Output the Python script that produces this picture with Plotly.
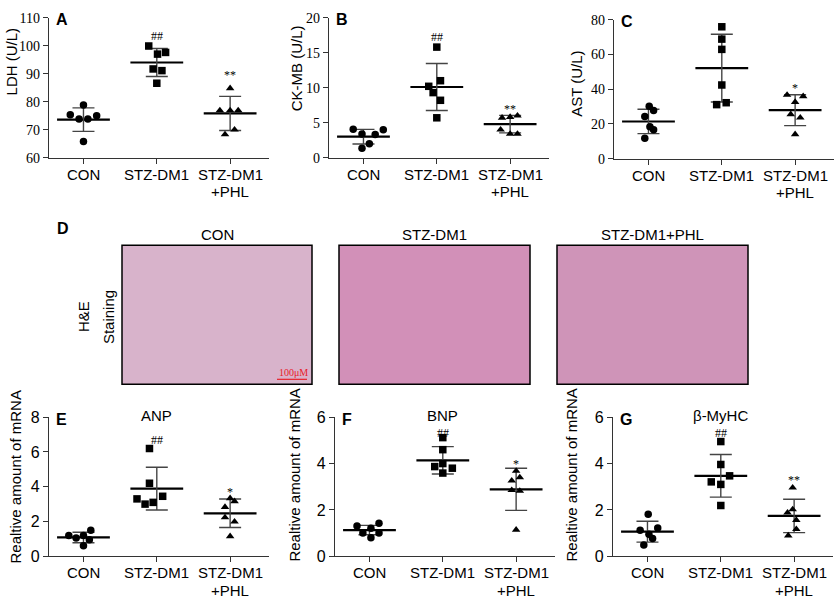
import plotly.graph_objects as go

W, H = 836, 608

groups = ["CON", "STZ-DM1", "STZ-DM1"]

# A - LDH (U/L)
ldh_con = [78.8, 75.3, 73.8, 73.8, 75.0, 65.8]
ldh_stz = [99.9, 97.0, 97.6, 91.7, 91.1, 86.6]
ldh_phl = [84.8, 76.9, 76.9, 76.9, 70.0, 68.3]
ldh_mean = [73.6, 94.0, 75.8]
ldh_sd = [4.2, 5.0, 6.1]
ldh_sig = [None, 103.3, 89.7]

# B - CK-MB (U/L)
ck_con = [4.07, 4.0, 3.4, 3.3, 2.0, 1.35]
ck_stz = [15.8, 11.0, 10.2, 9.3, 8.2, 5.7]
ck_phl = [5.7, 5.8, 6.0, 4.0, 3.4, 3.4]
ck_mean = [3.0, 10.1, 4.8]
ck_sd = [1.05, 3.35, 1.25]
ck_sig = [None, 17.3, 7.0]

# C - AST (U/L)
ast_con = [30.1, 27.7, 24.2, 18.4, 16.6, 11.7]
ast_stz = [75.9, 68.8, 62.9, 42.4, 31.1, 32.2]
ast_phl = [36.7, 35.9, 32.6, 25.5, 23.6, 14.0]
ast_mean = [21.4, 52.1, 27.9]
ast_sd = [7.0, 19.5, 8.9]
ast_sig = [None, 80.9, 40.4]

# E - ANP mRNA
anp_con = [1.2, 1.5, 1.05, 1.2, 0.95, 0.6]
anp_stz = [6.2, 4.2, 3.45, 3.3, 3.1, 3.0]
anp_phl = [3.33, 3.16, 2.83, 2.23, 1.99, 1.15]
anp_mean = [1.08, 3.89, 2.47]
anp_sd = [0.3, 1.23, 0.82]
anp_sig = [None, 6.7, 3.67]

# F - BNP mRNA
bnp_con = [1.31, 1.42, 1.0, 1.21, 1.0, 0.8]
bnp_stz = [5.12, 4.6, 3.87, 4.0, 3.8, 3.59]
bnp_phl = [3.68, 3.4, 3.26, 2.85, 2.82, 1.14]
bnp_mean = [1.13, 4.14, 2.89]
bnp_sd = [0.2, 0.59, 0.91]
bnp_sig = [None, 5.32, 4.0]

# G - beta-MyHC mRNA
myh_con = [1.81, 1.12, 1.22, 0.95, 0.77, 0.49]
myh_stz = [4.95, 3.96, 3.47, 3.21, 3.1, 2.19]
myh_phl = [2.96, 2.02, 1.88, 1.56, 1.17, 0.89]
myh_mean = [1.06, 3.47, 1.74]
myh_sd = [0.45, 0.92, 0.72]
myh_sig = [None, 5.32, 3.27]

# horizontal scatter of the dots within a group
ldh_off = [[0, -0.18, -0.06, 0.06, 0.18, 0], [-0.11, 0.01, 0.12, -0.05, 0.07, 0], [0, -0.14, 0, 0.11, 0.06, -0.07]]
ck_off = [[-0.14, 0.27, -0.02, 0.16, 0.08, -0.02], [0, 0.05, -0.11, -0.05, 0.05, 0], [-0.11, 0, 0.1, -0.13, 0, 0.1]]
ast_off = [[0.01, 0.07, -0.05, 0.02, 0.07, -0.05], [0, 0, 0, 0, -0.07, 0.06], [-0.11, 0.11, 0, -0.06, 0.07, 0]]
anp_off = [[-0.2, 0.1, -0.1, 0, 0.08, 0], [-0.1, -0.1, 0.08, -0.27, -0.05, -0.16], [0, 0.06, -0.07, -0.07, 0.06, 0]]
bnp_off = [[-0.17, 0.13, -0.09, 0.02, 0.13, 0.02], [0, 0, -0.11, 0, 0.13, 0], [0, 0.05, -0.06, -0.06, 0.05, 0]]
myh_off = [[0.01, -0.1, 0.14, 0.02, 0.07, -0.05], [0, 0, 0.12, -0.13, 0, 0], [-0.02, -0.02, -0.09, 0.03, 0.03, -0.08]]

panels = [
    dict(letter="A", data=[ldh_con, ldh_stz, ldh_phl], mean=ldh_mean, sd=ldh_sd, off=ldh_off,
         sig=ldh_sig, stars=[None, "##", "**"], yr=[60, 110], dt=10, x0=49, y0=10, y1=154,
         title="LDH (U/L)", tx=11, ty=55, sub=None, top=True),
    dict(letter="B", data=[ck_con, ck_stz, ck_phl], mean=ck_mean, sd=ck_sd, off=ck_off,
         sig=ck_sig, stars=[None, "##", "**"], yr=[0, 20], dt=5, x0=329, y0=10, y1=154,
         title="CK-MB (U/L)", tx=296, ty=62, sub=None, top=True),
    dict(letter="C", data=[ast_con, ast_stz, ast_phl], mean=ast_mean, sd=ast_sd, off=ast_off,
         sig=ast_sig, stars=[None, "##", "*"], yr=[0, 80], dt=20, x0=614, y0=12, y1=155,
         title="AST (U/L)", tx=577, ty=78, sub=None, top=True),
    dict(letter="E", data=[anp_con, anp_stz, anp_phl], mean=anp_mean, sd=anp_sd, off=anp_off,
         sig=anp_sig, stars=[None, "##", "*"], yr=[0, 8], dt=2, x0=49, y0=421, y1=564,
         title="Realtive amount of mRNA", tx=15, ty=483, sub="ANP", top=False),
    dict(letter="F", data=[bnp_con, bnp_stz, bnp_phl], mean=bnp_mean, sd=bnp_sd, off=bnp_off,
         sig=bnp_sig, stars=[None, "##", "*"], yr=[0, 6], dt=2, x0=335, y0=421, y1=564,
         title="Realtive amount of mRNA", tx=295, ty=481, sub="BNP", top=False),
    dict(letter="G", data=[myh_con, myh_stz, myh_phl], mean=myh_mean, sd=myh_sd, off=myh_off,
         sig=myh_sig, stars=[None, "##", "**"], yr=[0, 6], dt=2, x0=613, y0=421, y1=564,
         title="Realtive amount of mRNA", tx=572, ty=481, sub="β-MyHC", top=False),
]

symbols = ["circle", "square", "triangle-up"]
AXW = 220
XR = [-0.47, 2.53]
AXC = "#333333"
SANS = "Liberation Sans, Arial, sans-serif"
SERIF = "Liberation Serif, Times New Roman, serif"


def px(x):
    return x / W


def py(y):
    return 1 - y / H


def note(x, y, text, xref="paper", yref="paper", size=15, family=SANS, angle=0, color="black", xanchor="center"):
    return dict(x=x, y=y, xref=xref, yref=yref, text=text, showarrow=False, textangle=angle,
                xanchor=xanchor, yanchor="middle", font=dict(family=family, size=size, color=color))


fig = go.Figure()
annotations = []
shapes = []
layout_axes = {}

for k, p in enumerate(panels, start=1):
    xa = "x" if k == 1 else f"x{k}"
    ya = "y" if k == 1 else f"y{k}"
    xkey = "xaxis" if k == 1 else f"xaxis{k}"
    ykey = "yaxis" if k == 1 else f"yaxis{k}"

    # mean bars
    mx, my = [], []
    for i, m in enumerate(p["mean"]):
        mx += [i - 0.36, i + 0.36, None]
        my += [m, m, None]
    fig.add_trace(go.Scatter(x=mx, y=my, mode="lines", line=dict(color="black", width=2.2),
                             xaxis=xa, yaxis=ya, hoverinfo="skip", cliponaxis=False))
    # SD error bars
    fig.add_trace(go.Scatter(x=[0, 1, 2], y=p["mean"], mode="markers",
                             marker=dict(size=1, opacity=0),
                             error_y=dict(type="data", array=p["sd"], width=11, thickness=1.4, color="#444444"),
                             xaxis=xa, yaxis=ya, cliponaxis=False))
    # individual points
    for i, vals in enumerate(p["data"]):
        fig.add_trace(go.Scatter(x=[i + o for o in p["off"][i]], y=vals, mode="markers",
                                 marker=dict(symbol=symbols[i], size=7.5, color="black"),
                                 xaxis=xa, yaxis=ya, cliponaxis=False))

    tickfont = dict(family=SERIF, size=14, color="black") if p["top"] else dict(family=SANS, size=16, color="black")
    layout_axes[xkey] = dict(domain=[px(p["x0"]), px(p["x0"] + AXW)], range=XR, anchor=ya,
                             tickvals=[0, 1, 2], showticklabels=False, showline=True, linecolor=AXC,
                             linewidth=1.3, ticks="outside", ticklen=5, tickcolor=AXC, tickwidth=1.3,
                             showgrid=False, zeroline=False)
    layout_axes[ykey] = dict(domain=[py(p["y1"]), py(p["y0"])], range=p["yr"], dtick=p["dt"],
                             tick0=p["yr"][0], anchor=xa, showline=True, linecolor=AXC, linewidth=1.3,
                             ticks="outside", ticklen=5, tickcolor=AXC, tickwidth=1.3,
                             showgrid=False, zeroline=False, tickfont=tickfont)

    # category labels
    for i, g in enumerate(groups):
        annotations.append(note(i, py(p["y1"] + 17), g, xref=xa))
    annotations.append(note(2, py(p["y1"] + 35), "+PHL", xref=xa))
    # axis title
    annotations.append(note(px(p["tx"]), py(p["ty"]), p["title"], angle=-90))
    # panel letter
    annotations.append(note(px(p["x0"] + 5), py(p["y0"] + 2), "<b>" + p["letter"] + "</b>", size=16,
                            xanchor="left"))
    if p["sub"]:
        annotations.append(note(1, py(419), p["sub"], xref=xa))
    # significance marks
    for i, s in enumerate(p["stars"]):
        if s:
            annotations.append(note(i, p["sig"][i], s, xref=xa, yref=ya, size=12, family=SERIF))

# D - H&E staining panels (shown as plain tinted frames)
img_titles = ["CON", "STZ-DM1", "STZ-DM1+PHL"]
img_x = [(122, 312), (339, 530), (557, 748)]
img_fill = ["#d8b3cb", "#d290b8", "#cf94b8"]
for (a, b), t, c in zip(img_x, img_titles, img_fill):
    shapes.append(dict(type="rect", xref="paper", yref="paper", x0=px(a), x1=px(b), y0=py(387), y1=py(244),
                       fillcolor=c, line=dict(color="black", width=1.5)))
    annotations.append(note(px((a + b) / 2), py(233), t))
annotations.append(note(px(55), py(227), "<b>D</b>", size=16, xanchor="left"))
annotations.append(note(px(83), py(318), "H&amp;E", angle=-90))
annotations.append(note(px(108), py(318), "Staining", angle=-90))
annotations.append(note(px(293), py(375), "100μM", size=10, family=SERIF, color="#e8202a"))
shapes.append(dict(type="line", xref="paper", yref="paper", x0=px(277), x1=px(307), y0=py(382), y1=py(382),
                   line=dict(color="#e8202a", width=1.2)))

fig.update_layout(width=W, height=H, margin=dict(l=0, r=0, t=0, b=0), showlegend=False,
                  plot_bgcolor="white", paper_bgcolor="white", annotations=annotations, shapes=shapes,
                  **layout_axes)

# page body margin would push the 836x608 figure off the window edge
fig.write_html("out.html", config={"displayModeBar": False},
               post_script="document.body.style.margin='0px';")
